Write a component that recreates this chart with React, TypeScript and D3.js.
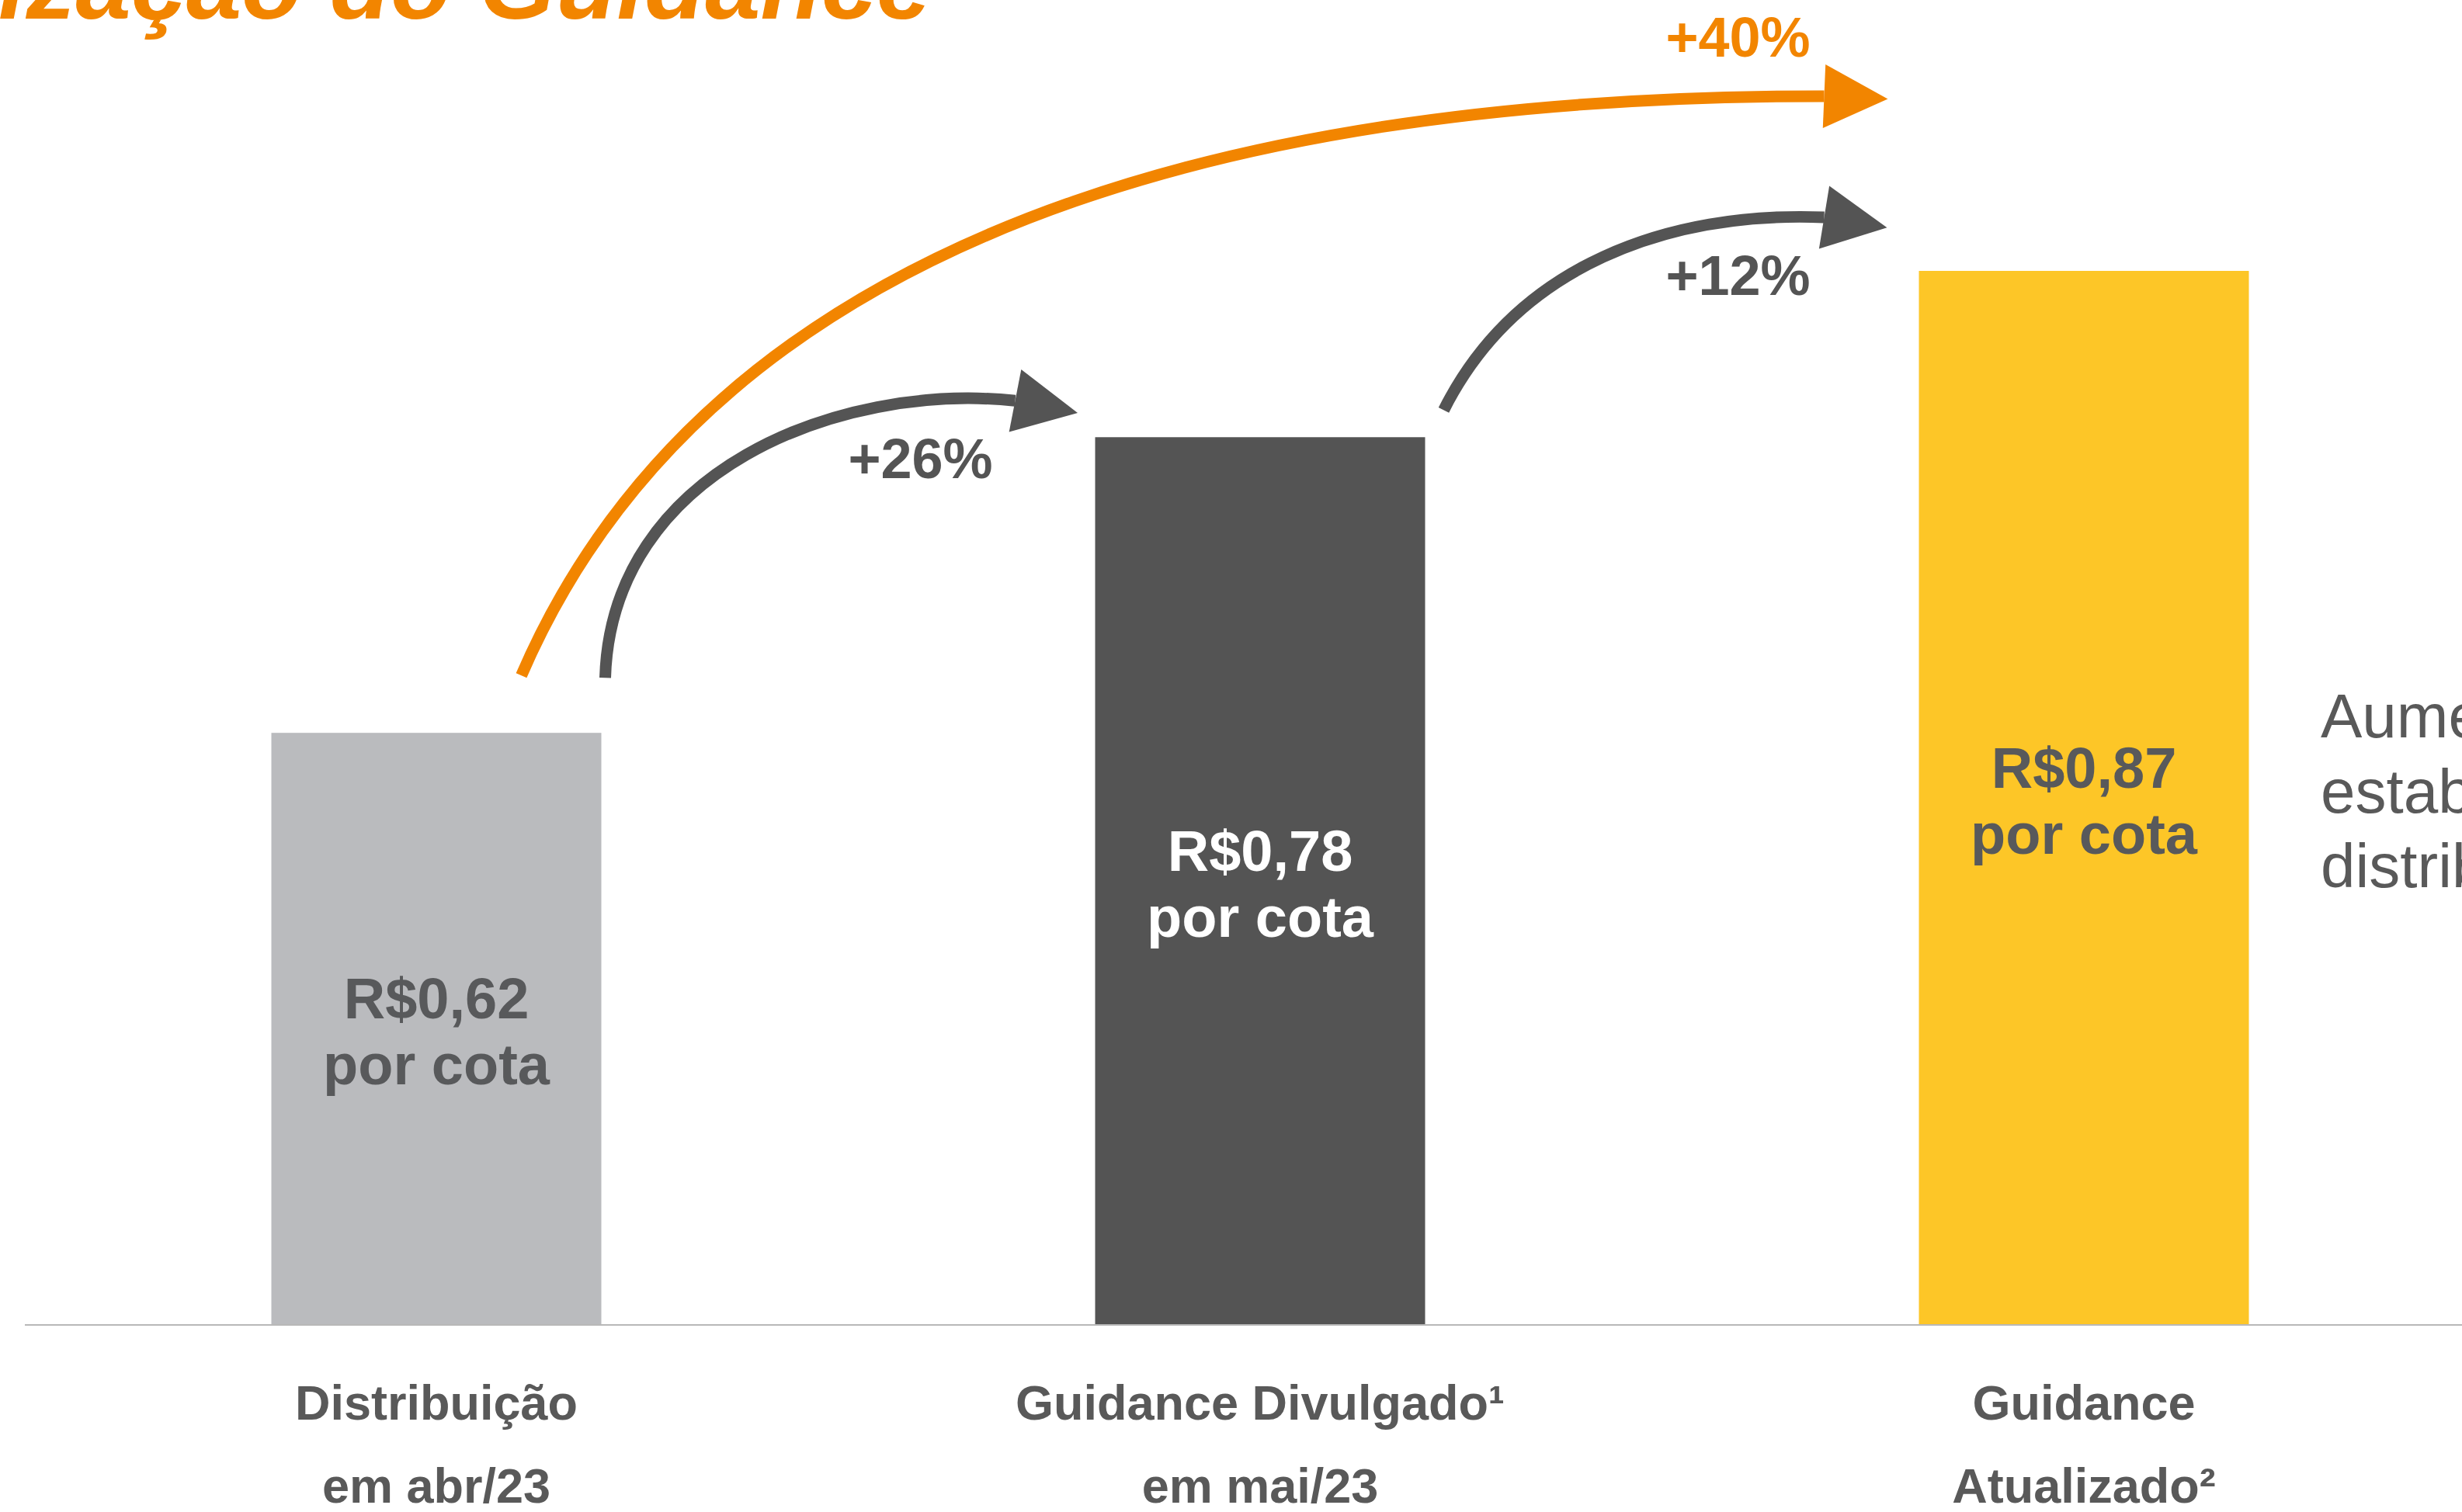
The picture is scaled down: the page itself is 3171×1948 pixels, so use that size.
import React from "react";
import * as d3 from "d3";

const categoriesLine1 = ["Distribuição", "Guidance Divulgado¹", "Guidance"];
const categoriesLine2 = ["em abr/23", "em mai/23", "Atualizado²"];
const values = [0.62, 0.78, 0.87];
const valueLabels = ["R$0,62", "R$0,78", "R$0,87"];
const unitLabel = "por cota";
const barColors = ["#babbbe", "#545454", "#fdc627"];
const labelColors = ["#58595b", "#ffffff", "#58595b"];
const growthLabels = ["+26%", "+12%", "+40%"];
const sideText = ["Aumento do guidance e", "estabilidade na", "distribuição de rendimentos"];
const title = "Atualização do Guidance";

const W = 3171;
const H = 1948;
const ORANGE = "#f28500";
const GRAY = "#545454";
const FONT = "'Liberation Sans', Arial, Helvetica, sans-serif";

export default function App() {
  const keys = categoriesLine1.map((_, i) => String(i));
  const x = d3.scalePoint<string>().domain(keys).range([562, 2684]);
  const barW = 425;
  const y = d3.scaleLinear().domain([0.3, 0.87]).range([1706, 349]);

  const left = (i: number) => (x(String(i)) as number) - barW / 2;
  const right = (i: number) => (x(String(i)) as number) + barW / 2;
  const top = (i: number) => y(values[i]);

  // arrow annotations, anchored to bar geometry
  const arrowSpecs = [
    { color: GRAY, s: [right(0) + 5, top(0) - 71], e: [left(1) - 103, top(1) - 47], c1: [0.015, 0.745], c2: [0.568, 1.067], angle: 11 },
    { color: GRAY, s: [right(1) + 24, top(1) - 35], e: [left(2) - 122, top(2) - 69], c1: [0.192, 0.754], c2: [0.592, 1.032], angle: 9.3 },
    { color: ORANGE, s: [left(0) + 322, top(0) - 74], e: [left(2) - 122, top(2) - 225], c1: [0.163, 0.849], c2: [0.636, 1.001], angle: 2.4 },
  ];

  const arrows = arrowSpecs.map((a) => {
    const [x0, y0] = a.s;
    const [x3, y3] = a.e;
    const dx = x3 - x0;
    const dy = y0 - y3;
    const p = d3.path();
    p.moveTo(x0, y0);
    p.bezierCurveTo(x0 + a.c1[0] * dx, y0 - a.c1[1] * dy, x0 + a.c2[0] * dx, y0 - a.c2[1] * dy, x3, y3);
    const r = (a.angle * Math.PI) / 180;
    const L = 82;
    const hw = 41;
    const tip = [x3 + L * Math.cos(r), y3 + L * Math.sin(r)];
    const c1 = [x3 + hw * Math.sin(r), y3 - hw * Math.cos(r)];
    const c2 = [x3 - hw * Math.sin(r), y3 + hw * Math.cos(r)];
    const h = d3.path();
    h.moveTo(c1[0], c1[1]);
    h.lineTo(tip[0], tip[1]);
    h.lineTo(c2[0], c2[1]);
    h.closePath();
    return { d: p.toString(), head: h.toString(), color: a.color };
  });

  const growthPos = [
    { x: left(1) - 225, y: top(1) + 53, color: GRAY },
    { x: left(2) - 233, y: top(2) + 31, color: GRAY },
    { x: left(2) - 233, y: top(2) - 276, color: ORANGE },
  ];

  return (
    <div style={{ position: "absolute", left: 0, top: 0 }}>
      <svg width={W} height={H} style={{ display: "block", overflow: "hidden", background: "#ffffff" }} fontFamily={FONT}>
        <rect x={0} y={0} width={W} height={H} fill="#ffffff" />
        <text x={1200} y={24} textAnchor="end" fontSize={128} fontWeight="bold" fontStyle="italic" fill={ORANGE}>
          {title}
        </text>

        {values.map((v, i) => (
          <rect key={"b" + i} x={left(i)} y={y(v)} width={barW} height={y(0.3) - y(v) + 1} fill={barColors[i]} />
        ))}
        <line x1={32} x2={W} y1={1707} y2={1707} stroke="#b8b8b8" strokeWidth={2} />

        {values.map((v, i) => {
          const mid = (y(v) + y(0.3)) / 2;
          return (
            <g key={"l" + i} fill={labelColors[i]} fontWeight="bold" fontSize={74} textAnchor="middle">
              <text x={x(String(i))} y={mid - 13}>{valueLabels[i]}</text>
              <text x={x(String(i))} y={mid + 72}>{unitLabel}</text>
            </g>
          );
        })}

        {categoriesLine1.map((c, i) => (
          <g key={"c" + i} fill="#595959" fontWeight="bold" fontSize={63} textAnchor="middle">
            <text x={x(String(i))} y={1829}>{c}</text>
            <text x={x(String(i))} y={1936}>{categoriesLine2[i]}</text>
          </g>
        ))}

        {arrows.map((a, i) => (
          <g key={"a" + i}>
            <path d={a.d} fill="none" stroke={a.color} strokeWidth={15} />
            <path d={a.head} fill={a.color} />
          </g>
        ))}

        {growthLabels.map((g, i) => (
          <text key={"g" + i} x={growthPos[i].x} y={growthPos[i].y} fill={growthPos[i].color} fontWeight="bold" fontSize={72} textAnchor="middle">
            {g}
          </text>
        ))}

        {sideText.map((t, i) => (
          <text key={"s" + i} x={2989} y={950 + i * 96.5} fill="#595959" fontSize={80}>
            {t}
          </text>
        ))}
      </svg>
    </div>
  );
}
